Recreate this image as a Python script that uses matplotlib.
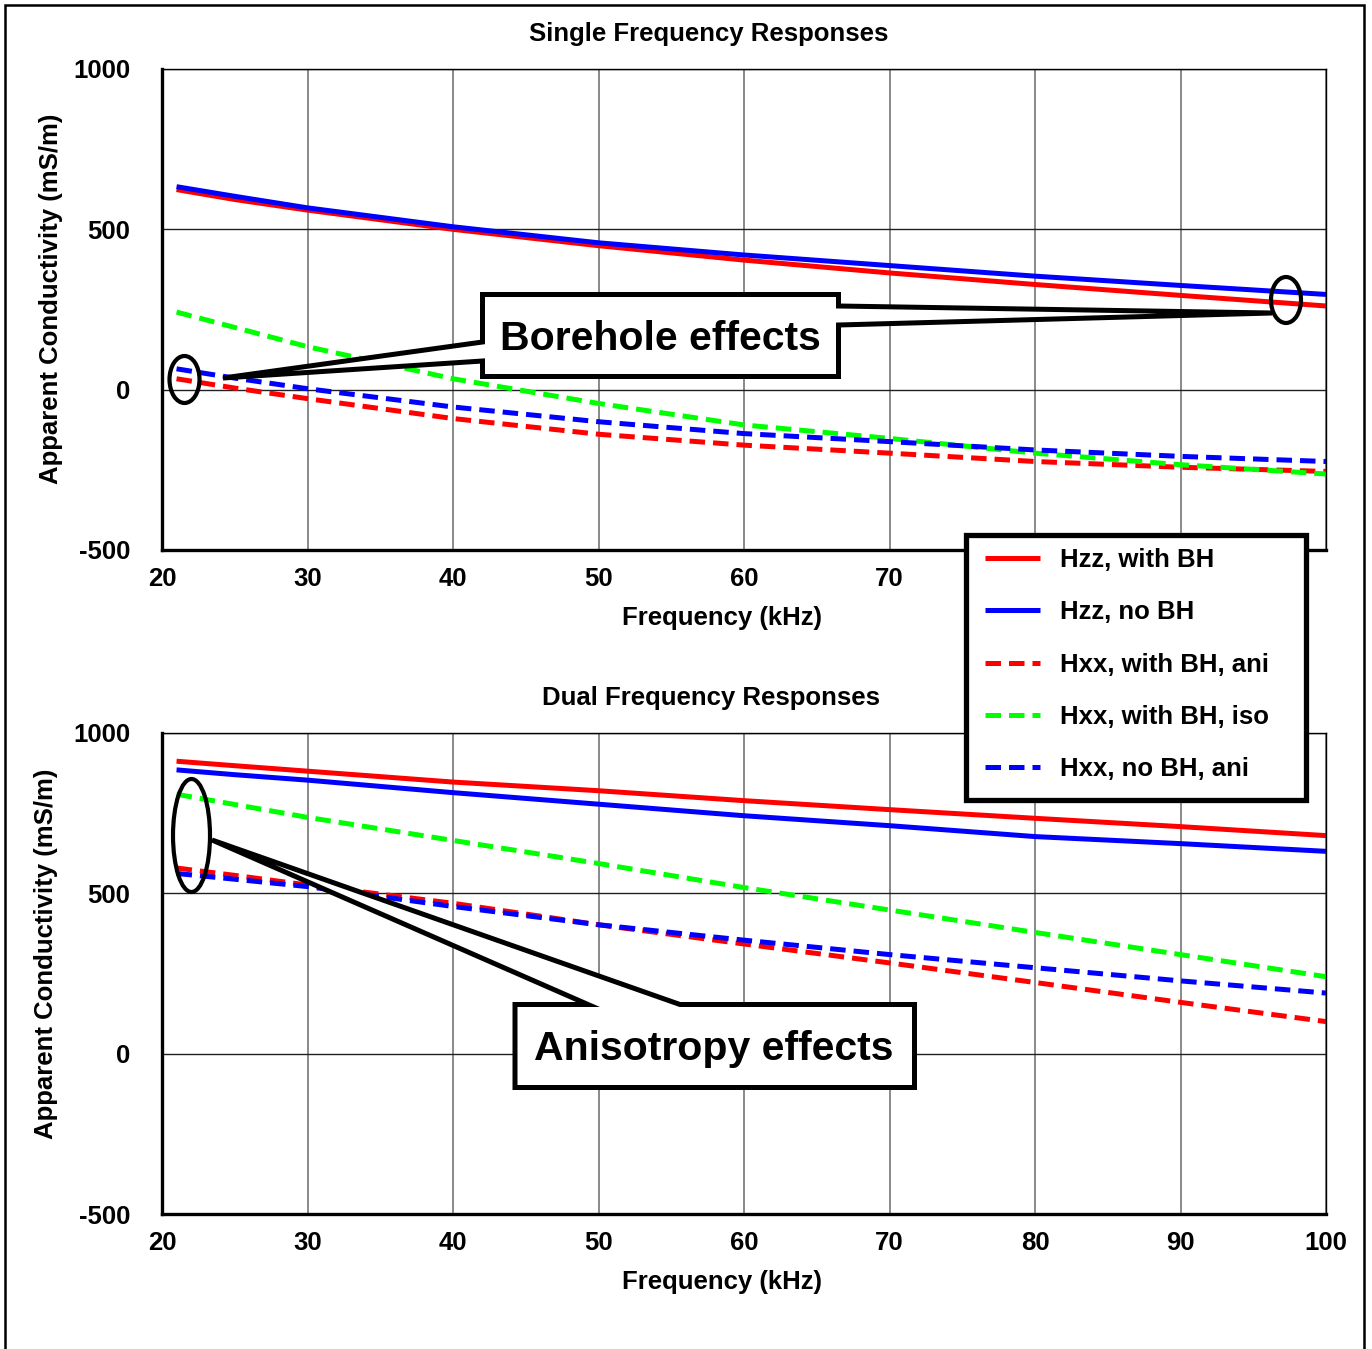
import numpy as np
import matplotlib
matplotlib.use("Agg")
import matplotlib.pyplot as plt
from matplotlib.patches import Ellipse, Polygon, Rectangle

plt.rcParams['font.family'] = ['Liberation Sans', 'DejaVu Sans']
plt.rcParams['font.weight'] = 'bold'
plt.rcParams['font.size'] = 18.5
plt.rcParams['axes.unicode_minus'] = False

# # 1. DATA

FREQ_KHZ = [21, 25, 30, 40, 50, 60, 70, 80, 90, 100]

# Single frequency responses (top panel), apparent conductivity in mS/m
SF_HZZ_BH = [624, 593, 560, 500, 449, 404, 364, 328, 294, 261]
SF_HZZ_NOBH = [633, 603, 567, 508, 458, 420, 387, 354, 325, 297]
SF_HXX_BH_ANI = [34, 5, -28, -90, -139, -173, -198, -224, -242, -255]
SF_HXX_BH_ISO = [242, 194, 134, 34, -43, -110, -152, -198, -234, -263]
SF_HXX_NOBH_ANI = [65, 36, 3, -54, -100, -137, -162, -188, -208, -224]

# Dual frequency responses (bottom panel)
DF_HZZ_BH = [912, 898, 881, 847, 820, 789, 761, 734, 708, 680]
DF_HZZ_NOBH = [885, 870, 853, 814, 778, 742, 711, 677, 655, 631]
DF_HXX_BH_ANI = [579, 556, 526, 469, 402, 342, 283, 222, 160, 100]
DF_HXX_BH_ISO = [809, 777, 737, 665, 593, 518, 448, 378, 309, 240]
DF_HXX_NOBH_ANI = [562, 544, 521, 459, 402, 354, 309, 268, 227, 189]

SERIES_LABELS = ['Hzz, with BH', 'Hzz, no BH', 'Hxx, with BH, ani',
                 'Hxx, with BH, iso', 'Hxx, no BH, ani']

X_TICKS = [20, 30, 40, 50, 60, 70, 80, 90, 100]
Y_TICKS = [-500, 0, 500, 1000]
# in the top panel the legend box sits over the last x labels
TOP_X_LABELS = ['20', '30', '40', '50', '60', '70', '', '', '']

# # 2. STYLE

STYLES = [
    dict(color='#ff0000', linestyle='-'),
    dict(color='#0000ff', linestyle='-'),
    dict(color='#ff0000', linestyle=(0, (3.1, 1.6))),
    dict(color='#00ff00', linestyle=(0, (3.1, 1.6))),
    dict(color='#0000ff', linestyle=(0, (3.1, 1.6))),
]
LW = 3.6
FS = 18.5

W, H = 1372, 1349   # pixel size of the output


def fpt(x, y):
    """pixel position (from top-left) -> figure fraction"""
    return x / W, 1 - y / H


def style_axes(ax):
    ax.set_xlim(20, 100)
    ax.set_ylim(-500, 1000)
    ax.set_xticks(X_TICKS)
    ax.set_yticks(Y_TICKS)
    ax.tick_params(axis='both', length=0, labelsize=FS)
    ax.tick_params(axis='y', pad=23)
    ax.tick_params(axis='x', pad=12)
    ax.xaxis.grid(True, color='#808080', linewidth=1.3)
    ax.yaxis.grid(True, color='#202020', linewidth=1.0)
    ax.set_axisbelow(True)
    for side in ('left', 'bottom'):
        ax.spines[side].set_linewidth(2.4)
    for side in ('top', 'right'):
        ax.spines[side].set_linewidth(1.0)
    for lab in ax.get_xticklabels() + ax.get_yticklabels():
        lab.set_fontweight('bold')


def plot_panel(ax, series, title, title_xy, ylab_xy):
    lines = []
    for ys, st in zip(series, STYLES):
        ln, = ax.plot(FREQ_KHZ, ys, linewidth=LW, solid_capstyle='butt', **st)
        lines.append(ln)
    style_axes(ax)
    ax.set_xlabel('Frequency (kHz)', fontsize=FS, fontweight='bold')
    ax.xaxis.set_label_coords(0.481, -0.116)
    ax.set_ylabel('Apparent Conductivity (mS/m)', fontsize=FS, fontweight='bold', va='center')
    ax.yaxis.set_label_coords(*ylab_xy)
    fig.text(*fpt(*title_xy), title, fontsize=FS, fontweight='bold', ha='center', va='center')
    return lines


# # 3. FIGURE

fig = plt.figure(figsize=(W / 100, H / 100), dpi=100)
fig.patch.set_facecolor('white')

ax_top = fig.add_axes([162 / W, 1 - 550 / H, 1164 / W, 481 / H])
ax_bot = fig.add_axes([162 / W, 1 - 1214 / H, 1164 / W, 481 / H])

top_lines = plot_panel(ax_top, [SF_HZZ_BH, SF_HZZ_NOBH, SF_HXX_BH_ANI, SF_HXX_BH_ISO, SF_HXX_NOBH_ANI],
                       'Single Frequency Responses', (709, 34), (-0.095, 0.522))
ax_top.set_xticklabels(TOP_X_LABELS, fontweight='bold')
plot_panel(ax_bot, [DF_HZZ_BH, DF_HZZ_NOBH, DF_HXX_BH_ANI, DF_HXX_BH_ISO, DF_HXX_NOBH_ANI],
           'Dual Frequency Responses', (711, 698), (-0.1, 0.54))

# outer frame of the whole picture
fig.add_artist(Rectangle(fpt(5, 1360), (1364 - 5) / W, (1360 - 5) / H, transform=fig.transFigure,
                         fill=False, edgecolor='black', linewidth=1.8, zorder=1))

# # 4. CALLOUTS

def callout(points, text, text_xy):
    poly = Polygon([fpt(x, y) for x, y in points], closed=True, transform=fig.transFigure,
                   facecolor='white', edgecolor='black', linewidth=3.6, joinstyle='miter', zorder=6)
    fig.add_artist(poly)
    fig.text(*fpt(*text_xy), text, fontsize=29.5, fontweight='bold', ha='center', va='baseline', zorder=7)


def ring(cx, cy, w, h):
    fig.add_artist(Ellipse(fpt(cx, cy), w / W, h / H, transform=fig.transFigure,
                           fill=False, edgecolor='black', linewidth=3.0, zorder=6))


callout([(482.5, 294.5), (838.5, 294.5), (838.5, 306), (1272, 313), (838.5, 325),
         (838.5, 376.5), (482.5, 376.5), (482.5, 361), (223, 378), (482.5, 342)],
        'Borehole effects', (660, 350))
ring(184.5, 379.5, 30, 47)
ring(1286, 300, 30, 46)

callout([(515, 1004.5), (588, 1004.5), (212, 840), (680, 1004.5), (914.5, 1004.5),
         (914.5, 1087.5), (515, 1087.5)],
        'Anisotropy effects', (714, 1060))
ring(191.5, 835.5, 37, 113)

# # 5. LEGEND

fig.add_artist(Rectangle(fpt(965.5, 799.5), (1305.5 - 965.5) / W, (799.5 - 534.5) / H,
                         transform=fig.transFigure, facecolor='white', edgecolor='black',
                         linewidth=3.8, zorder=8))
leg = fig.legend(top_lines, SERIES_LABELS, loc='upper left', bbox_to_anchor=fpt(985, 548),
                 frameon=False, borderpad=0, borderaxespad=0, handlelength=2.15,
                 handletextpad=0.78, labelspacing=1.1, prop=dict(size=FS, weight='bold'))
leg.set_zorder(9)

fig.savefig('out.png', dpi=100, facecolor='white')
